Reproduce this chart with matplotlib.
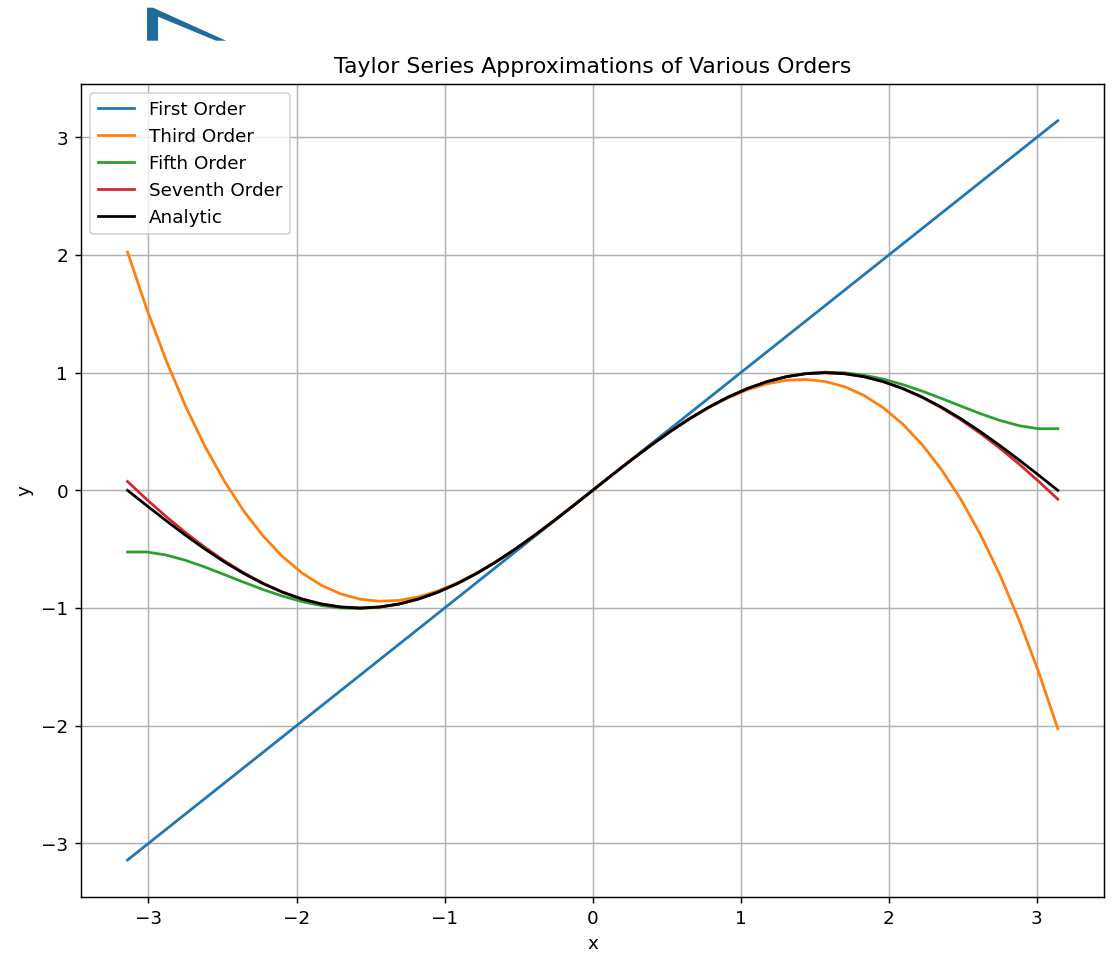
import matplotlib
matplotlib.use("Agg")
import matplotlib.pyplot as plt
from matplotlib.patches import Polygon

# Sample positions (x) and values
x_vals = [-3.1416, -3.0107, -2.8798, -2.7489, -2.6180, -2.4871, -2.3562, -2.2253,
          -2.0944, -1.9635, -1.8326, -1.7017, -1.5708, -1.4399, -1.3090, -1.1781,
          -1.0472, -0.9163, -0.7854, -0.6545, -0.5236, -0.3927, -0.2618, -0.1309,
          0.0,
          0.1309, 0.2618, 0.3927, 0.5236, 0.6545, 0.7854, 0.9163, 1.0472,
          1.1781, 1.3090, 1.4399, 1.5708, 1.7017, 1.8326, 1.9635, 2.0944,
          2.2253, 2.3562, 2.4871, 2.6180, 2.7489, 2.8798, 3.0107, 3.1416]

first_order = [-3.1416, -3.0107, -2.8798, -2.7489, -2.6180, -2.4871, -2.3562, -2.2253,
               -2.0944, -1.9635, -1.8326, -1.7017, -1.5708, -1.4399, -1.3090, -1.1781,
               -1.0472, -0.9163, -0.7854, -0.6545, -0.5236, -0.3927, -0.2618, -0.1309,
               0.0,
               0.1309, 0.2618, 0.3927, 0.5236, 0.6545, 0.7854, 0.9163, 1.0472,
               1.1781, 1.3090, 1.4399, 1.5708, 1.7017, 1.8326, 1.9635, 2.0944,
               2.2253, 2.3562, 2.4871, 2.6180, 2.7489, 2.8798, 3.0107, 3.1416]

third_order = [2.0261, 1.5376, 1.1007, 0.7131, 0.3726, 0.0770, -0.1760, -0.3887,
               -0.5632, -0.7018, -0.8068, -0.8804, -0.9248, -0.9423, -0.9352, -0.9056,
               -0.8558, -0.7881, -0.7046, -0.6078, -0.4997, -0.3826, -0.2588, -0.1305,
               0.0,
               0.1305, 0.2588, 0.3826, 0.4997, 0.6078, 0.7046, 0.7881, 0.8558,
               0.9056, 0.9352, 0.9423, 0.9248, 0.8804, 0.8068, 0.7018, 0.5632,
               0.3887, 0.1760, -0.0770, -0.3726, -0.7131, -1.1007, -1.5376, -2.0261]

fifth_order = [-0.5240, -0.5237, -0.5499, -0.5949, -0.6523, -0.7161, -0.7812, -0.8434,
               -0.8990, -0.9450, -0.9791, -0.9993, -1.0045, -0.9939, -0.9672, -0.9245,
               -0.8663, -0.7935, -0.7071, -0.6088, -0.5000, -0.3827, -0.2588, -0.1305,
               0.0,
               0.1305, 0.2588, 0.3827, 0.5000, 0.6088, 0.7071, 0.7935, 0.8663,
               0.9245, 0.9672, 0.9939, 1.0045, 0.9993, 0.9791, 0.9450, 0.8990,
               0.8434, 0.7812, 0.7161, 0.6523, 0.5949, 0.5499, 0.5237, 0.5240]

seventh_order = [0.0753, -0.0789, -0.2240, -0.3596, -0.4851, -0.5993, -0.7012, -0.7898,
                 -0.8639, -0.9227, -0.9653, -0.9911, -0.9998, -0.9914, -0.9659, -0.9239,
                 -0.8660, -0.7934, -0.7071, -0.6088, -0.5000, -0.3827, -0.2588, -0.1305,
                 0.0,
                 0.1305, 0.2588, 0.3827, 0.5000, 0.6088, 0.7071, 0.7934, 0.8660,
                 0.9239, 0.9659, 0.9914, 0.9998, 0.9911, 0.9653, 0.9227, 0.8639,
                 0.7898, 0.7012, 0.5993, 0.4851, 0.3596, 0.2240, 0.0789, -0.0753]

analytic = [0.0, -0.1305, -0.2588, -0.3827, -0.5000, -0.6088, -0.7071, -0.7934,
            -0.8660, -0.9239, -0.9659, -0.9914, -1.0000, -0.9914, -0.9659, -0.9239,
            -0.8660, -0.7934, -0.7071, -0.6088, -0.5000, -0.3827, -0.2588, -0.1305,
            0.0,
            0.1305, 0.2588, 0.3827, 0.5000, 0.6088, 0.7071, 0.7934, 0.8660,
            0.9239, 0.9659, 0.9914, 1.0000, 0.9914, 0.9659, 0.9239, 0.8660,
            0.7934, 0.7071, 0.6088, 0.5000, 0.3827, 0.2588, 0.1305, 0.0]

series_labels = ["First Order", "Third Order", "Fifth Order", "Seventh Order", "Analytic"]

W, H, DPI = 1114, 956, 132
fig = plt.figure(figsize=((W + 0.3) / DPI, (H + 0.3) / DPI), dpi=DPI)
ax = fig.add_axes([81 / W, 1 - 897 / H, (1104 - 81) / W, (897 - 84) / H])

ax.plot(x_vals, first_order, color="C0", label=series_labels[0])
ax.plot(x_vals, third_order, color="C1", label=series_labels[1])
ax.plot(x_vals, fifth_order, color="C2", label=series_labels[2])
ax.plot(x_vals, seventh_order, color="C3", label=series_labels[3])
ax.plot(x_vals, analytic, color="black", label=series_labels[4])

ax.set_title("Taylor Series Approximations of Various Orders")
ax.set_xlabel("x")
ax.set_ylabel("y")
ax.grid(True)
ax.legend(loc="upper left")

# decorative clipped shape at top-left of the image
def px(pts):
    return [(a / W, 1 - b / H) for a, b in pts]

shape = Polygon(px([(147, 8), (153, 8), (226, 41), (216, 41), (158, 17),
                    (158, 41), (147, 41)]),
                closed=True, transform=fig.transFigure,
                facecolor="#1f6b9c", edgecolor="none")
fig.patches.append(shape)

fig.savefig("out.png", dpi=DPI)
